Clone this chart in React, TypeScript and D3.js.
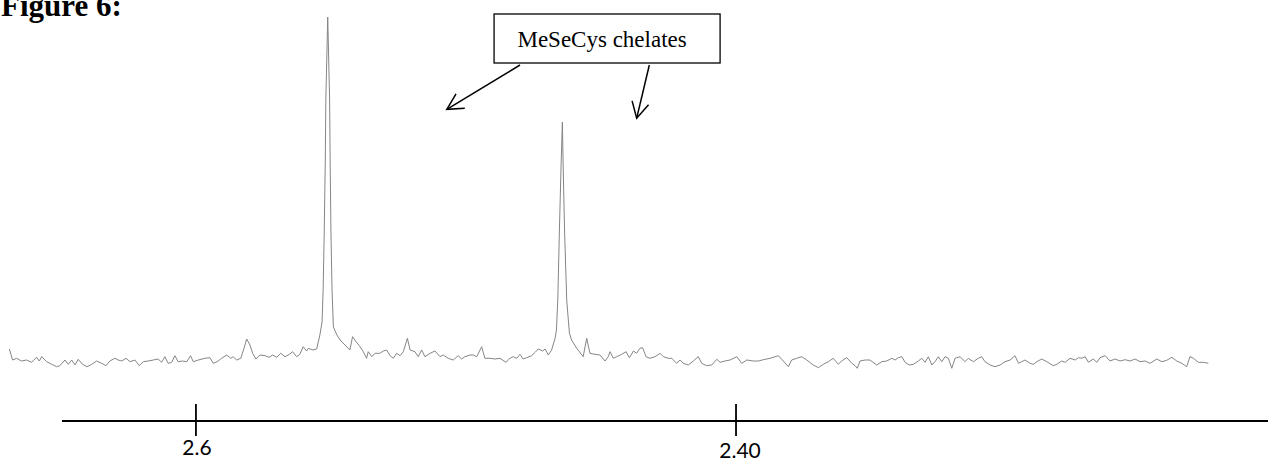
import React from "react";
import * as d3 from "d3";

// chemical shift (ppm) of each recorded point, and its intensity (a.u.)
const shiftPpm = [
  2.6691, 2.6679, 2.6664, 2.6646, 2.6627, 2.6609, 2.659, 2.658, 2.6571, 2.6553,
  2.6534, 2.6516, 2.6504, 2.6485, 2.6473, 2.646, 2.6448, 2.6436, 2.642, 2.6403,
  2.6386, 2.6368, 2.6349, 2.6333, 2.6319, 2.63, 2.6288, 2.6275, 2.6259, 2.6244,
  2.6226, 2.621, 2.6195, 2.6177, 2.6158, 2.614, 2.6127, 2.6115, 2.6103, 2.609,
  2.6078, 2.6066, 2.6049, 2.6034, 2.602, 2.601, 2.5991, 2.5967, 2.5948, 2.5936,
  2.5921, 2.5905, 2.5886, 2.5871, 2.5862, 2.5849, 2.5834, 2.5822, 2.5812, 2.58,
  2.579, 2.5778, 2.5763, 2.5744, 2.5729, 2.5716, 2.5701, 2.5686, 2.567, 2.5654,
  2.5642, 2.5627, 2.5615, 2.5603, 2.559, 2.5584, 2.5566, 2.5553, 2.5541, 2.5533,
  2.5529, 2.5525, 2.5521, 2.5519, 2.5512, 2.5505, 2.5503, 2.55, 2.5496, 2.5491,
  2.5478, 2.5463, 2.5448, 2.543, 2.542, 2.5407, 2.5395, 2.538, 2.5368, 2.5362,
  2.5349, 2.5337, 2.5319, 2.5306, 2.5294, 2.5281, 2.5269, 2.5257, 2.5244, 2.5232,
  2.5217, 2.5207, 2.5189, 2.5177, 2.5164, 2.5152, 2.5133, 2.5115, 2.5096, 2.5084,
  2.5066, 2.5047, 2.5029, 2.5016, 2.5004, 2.4985, 2.4973, 2.496, 2.4942, 2.493,
  2.4911, 2.4893, 2.4874, 2.4852, 2.4837, 2.4825, 2.4812, 2.48, 2.4788, 2.4775,
  2.4757, 2.4744, 2.4732, 2.4716, 2.4707, 2.4695, 2.4683, 2.467, 2.4665, 2.466,
  2.4654, 2.4648, 2.4643, 2.464, 2.4635, 2.4627, 2.4617, 2.4609, 2.459, 2.4566,
  2.4553, 2.4541, 2.4522, 2.4504, 2.4485, 2.4473, 2.4467, 2.4454, 2.4442, 2.4423,
  2.4407, 2.4395, 2.438, 2.4368, 2.4356, 2.4346, 2.4333, 2.4319, 2.43, 2.4281,
  2.4269, 2.4251, 2.4238, 2.422, 2.4207, 2.4195, 2.4177, 2.4158, 2.414, 2.4127,
  2.4109, 2.409, 2.4071, 2.4059, 2.4041, 2.4022, 2.3997, 2.3979, 2.396, 2.3936,
  2.3917, 2.3899, 2.3874, 2.3843, 2.3825, 2.3806, 2.3794, 2.3775, 2.3757, 2.3738,
  2.3714, 2.3695, 2.3677, 2.3658, 2.364, 2.3621, 2.3609, 2.359, 2.3571, 2.3559,
  2.3551, 2.3541, 2.3522, 2.3504, 2.3479, 2.346, 2.3442, 2.3423, 2.3411, 2.3399,
  2.3386, 2.3374, 2.3358, 2.3343, 2.3325, 2.3312, 2.33, 2.3288, 2.3275, 2.3263,
  2.3251, 2.3238, 2.3226, 2.3214, 2.3201, 2.3189, 2.317, 2.3152, 2.314, 2.3121,
  2.3103, 2.309, 2.3078, 2.3059, 2.3041, 2.3022, 2.3004, 2.2985, 2.2967, 2.2954,
  2.2942, 2.293, 2.2911, 2.2899, 2.2886, 2.2868, 2.2849, 2.2825, 2.2812, 2.2794,
  2.2781, 2.2763, 2.2744, 2.2732, 2.272, 2.2707, 2.2695, 2.2677, 2.2664, 2.2652,
  2.2633, 2.2615, 2.2596, 2.2578, 2.2559, 2.2541, 2.2522, 2.2504, 2.2485, 2.2467,
  2.2442, 2.2423, 2.2405, 2.2386, 2.2368, 2.2349, 2.2331, 2.2319, 2.2306, 2.2288,
  2.2269, 2.2251,
];

const intensity = [
  11, 0, 1.7, -1, 0, -2.3, 2.7, -1, 3.3, -1.7,
  -4.3, -6.7, -5.7, 0, -4.3, 0, -5, 0.7, -4.3, -6.7,
  -4.3, -1, -3.3, -5.7, -1, 1.7, 0, -1, 1.7, -1.7,
  0, -5.7, -1.7, -1, 0, 1, -2.3, 3.3, -3.3, -2.3,
  4.3, -1.7, -1, -1.7, 4.3, -1.7, 0, 1.7, 2.3, -3.3,
  -1.7, 1.7, 5, 1.7, 3.3, 0, 1.7, 11.7, 21, 15,
  6.7, 1, 5, 4.3, 2.7, 5, 2.7, 6.7, 3.3, 5.7,
  8.3, 3.3, 5.7, 13.3, 9, 11.7, 10, 11, 25, 38,
  70, 127, 200, 260, 343, 260, 200, 127, 70, 33,
  25, 19, 15, 10, 23.3, 18.3, 14.3, 8.3, 1.7, 8.3,
  3.3, 6.7, 6.7, 9, 10, 4.3, 1.7, 6.7, 4.3, 8.3,
  21.7, 10, 8.3, 3.3, 10, 3.3, 6.7, 9, 3.3, 5,
  1.7, 0, 4.3, 1, 3.3, 5, 5, 3.3, 13.3, 1.7,
  1.7, 1, 1.7, -2.3, 1.7, 3.3, 1.7, 5.7, 1, 2.3,
  4.3, 7.7, 11, 9, 11, 5, 10, 21.7, 30, 60,
  130, 193, 238, 193, 130, 60, 27, 20, 11.7, 3.3,
  21.7, 6.7, 5.7, 5, -1, 3.3, 8.3, 1.7, 3.3, 5.7,
  8.3, 2.3, 9, 6.7, 11.7, 12.3, 3.3, 1.7, 3.3, 6.7,
  3.3, 1.7, 1.7, -3.3, 0, -3.3, -5, -1, 3.3, -3.3,
  -5.7, -5, 0.7, -2.3, -1, 0, 3.3, -3.3, 0, -1,
  -1, 0.3, 1.7, 4.3, -1, -6.7, 0, 1.7, 3.3, 0,
  -5, -7.7, -4.3, -1.7, 1.7, -4.3, -1, 2.3, -3.3, -5.7,
  -8.3, -1, 0, 0, -5, -1.7, -1, 1.7, 0, 2.3,
  3.3, -2.3, -5, -4.3, -1, 1.7, -2.3, 3.3, -5, -1.7,
  3.3, -1.7, 3.3, 1.7, -8.3, 1.7, 3.3, -1.7, 1.7, -1.7,
  1.7, 3.3, -1.7, -5, -6.7, -5, -1.7, 0, 4.3, -3.3,
  -1.7, 0, -3.3, -4.3, -1.7, 1, -1.7, -5.7, -4.3, -1,
  -2.3, 1.7, 0, 2.3, 1.7, 3.3, -2.3, 1, -2.3, 2.3,
  4.3, -1, 1, -1, 0.3, -1, 1, -1.7, -1, -3.3,
  1, -1.7, -0.3, 2.7, -1, -3.3, -6.7, 3.3, 1.7, -2.3,
  -2.3, -3.3,
];

const axisDomain = [2.6496, 2.203];
const tickValues = [2.6, 2.4];
const tickLabels = ["2.6", "2.40"];

const figureTitle = "Figure 6:";
const calloutText = "MeSeCys chelates";
// callout box corners and arrows, in (ppm, intensity)
const calloutBox = { ppmLeft: 2.4896, ppmRight: 2.4059, top: 346, bottom: 297 };
const calloutArrows = [
  { fromPpm: 2.48, fromInt: 295, toPpm: 2.5071, toInt: 250.7 },
  { fromPpm: 2.4321, fromInt: 295, toPpm: 2.4368, toInt: 241.7 },
];

const W = 1268;
const H = 462;

export default function App() {
  const x = d3.scaleLinear().domain(axisDomain).range([62, 1268]);
  const y = d3.scaleLinear().domain([0, 343]).range([360, 17]);
  const axisY = 421;

  const points = shiftPpm.map((p, i) => [p, intensity[i]] as [number, number]);
  const line = d3
    .line<[number, number]>()
    .x((d) => x(d[0]))
    .y((d) => y(d[1]));

  const head = (a: typeof calloutArrows[0]) => {
    const x1 = x(a.fromPpm), y1 = y(a.fromInt);
    const x2 = x(a.toPpm), y2 = y(a.toInt);
    const ang = Math.atan2(y1 - y2, x1 - x2);
    const len = 18, spread = (28 * Math.PI) / 180;
    const p1 = [x2 + len * Math.cos(ang - spread), y2 + len * Math.sin(ang - spread)];
    const p2 = [x2 + len * Math.cos(ang + spread), y2 + len * Math.sin(ang + spread)];
    return `M${p1[0]},${p1[1]}L${x2},${y2}L${p2[0]},${p2[1]}`;
  };

  return (
    <svg
      width={W}
      height={H}
      style={{ position: "absolute", left: 0, top: 0, background: "#fff" }}
    >
      {/* title sits partly above the top edge, as in the scanned figure */}
      <text
        x={1}
        y={16}
        fontFamily="Liberation Serif, serif"
        fontWeight="bold"
        fontSize={31}
        fill="#000"
      >
        {figureTitle}
      </text>

      <path d={line(points) || ""} fill="none" stroke="#858585" strokeWidth={1} />

      <rect
        x={x(calloutBox.ppmLeft)}
        y={y(calloutBox.top)}
        width={x(calloutBox.ppmRight) - x(calloutBox.ppmLeft)}
        height={y(calloutBox.bottom) - y(calloutBox.top)}
        fill="#fff"
        stroke="#000"
        strokeWidth={1.3}
      />
      <text
        x={(x(calloutBox.ppmLeft) + x(calloutBox.ppmRight)) / 2 - 5}
        y={y(calloutBox.top) + 33}
        textAnchor="middle"
        fontFamily="Liberation Serif, serif"
        fontSize={23}
        fill="#000"
      >
        {calloutText}
      </text>
      {calloutArrows.map((a, i) => (
        <g key={i} stroke="#000" strokeWidth={1.5} fill="none">
          <line x1={x(a.fromPpm)} y1={y(a.fromInt)} x2={x(a.toPpm)} y2={y(a.toInt)} />
          <path d={head(a)} />
        </g>
      ))}

      <line x1={x(axisDomain[0])} x2={x(axisDomain[1])} y1={axisY} y2={axisY} stroke="#000" strokeWidth={1.8} />
      {tickValues.map((t, i) => (
        <g key={t} transform={`translate(${x(t)},0)`}>
          <line y1={axisY - 17} y2={axisY + 15} stroke="#000" strokeWidth={1.8} />
          <text
            y={i === 1 ? 458 : 455}
            dx={i === 1 ? 4 : 1}
            textAnchor="middle"
            fontFamily="Lato, sans-serif"
            fontSize={21}
            fill="#000"
          >
            {tickLabels[i]}
          </text>
        </g>
      ))}
    </svg>
  );
}
